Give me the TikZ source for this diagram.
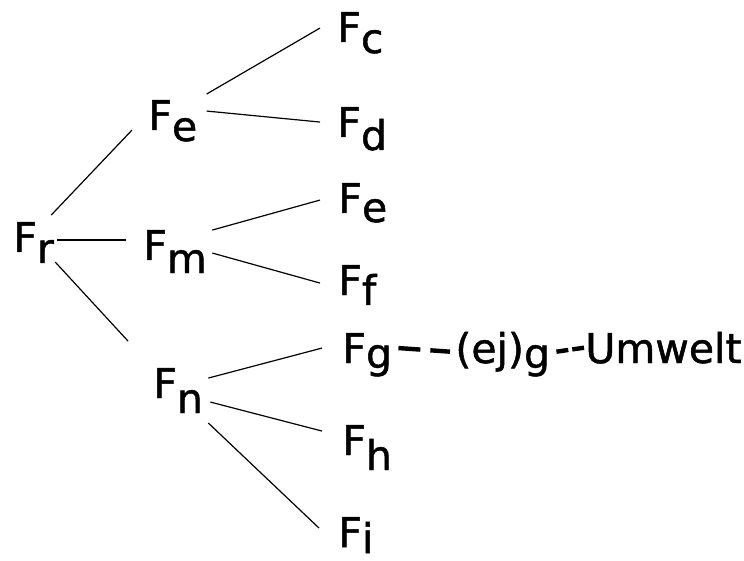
\documentclass[tikz,border=0pt]{standalone}
\usepackage{fontspec}
\setmainfont{DejaVu Sans}
\newfontfamily\schablone{DejaVu Sans}[FakeBold=1.2]
\usetikzlibrary{calc}
\newcommand{\idx}[2][5.5pt]{\raisebox{-#1}[0pt][0pt]{#2}}
\tikzset{
  lbl/.style={inner sep=0pt, anchor=base west, font=\schablone\fontsize{20.5}{22}\selectfont},
  ast/.style={line width=0.6pt},
  strich/.style={line width=2.2pt, dash pattern=on 11pt off 5pt},
  strichk/.style={line width=2.2pt, dash pattern=on 6pt off 2pt},
}

\begin{document}
\begin{tikzpicture}[x=0.5pt, y=-0.5pt]
\useasboundingbox (0,0) rectangle (744,561);
\node[lbl] (fr) at (13,252) {F\idx{r}};
\node[lbl] (fe) at (148,130) {F\idx{e}};
\node[lbl] (fm) at (143,260) {F\idx[6.5pt]{m}};
\node[lbl] (fn) at (153,398) {F\idx[7.5pt]{n}};
\node[lbl] (fc) at (337,42) {F\idx{c}};
\node[lbl] (fd) at (337,137) {F\idx[6.5pt]{d}};
\node[lbl] (fee) at (338,213) {F\idx[4.5pt]{e}};
\node[lbl] (ff) at (338,295) {F\idx[5pt]{f}};
\node[lbl] (fg) at (342,363) {F\idx[2.5pt]{g}};
\node[lbl] (fh) at (342,455) {F\idx[7.5pt]{h}};
\node[lbl] (fi) at (338,547) {F\idx[3pt]{i}};
\node[lbl] (ej) at (455,363) {(ej)\idx[2.5pt]{g}};
\node[lbl] (umwelt) at (585,363) {Umwelt};
\draw[ast] ($(fr.east)+(-3,-22)$) -- ($(fe.west)+(-16,15)$);
\draw[ast] ($(fr.east)+(3,3)$) -- ($(fm.west)+(-17,-5)$);
\draw[ast] ($(fr.east)+(1,25)$) -- ($(fn.west)+(-25,-42)$);
\draw[ast] ($(fe.east)+(9,-21)$) -- ($(fc.west)+(-17,1)$);
\draw[ast] ($(fe.east)+(9,-4)$) -- ($(fd.west)+(-17,0)$);
\draw[ast] ($(fm.east)+(5,-15)$) -- ($(fee.west)+(-18,2)$);
\draw[ast] ($(fm.east)+(5,8)$) -- ($(ff.west)+(-18,3)$);
\draw[ast] ($(fn.east)+(5,-5)$) -- ($(fg.west)+(-20,0)$);
\draw[ast] ($(fn.east)+(7,19)$) -- ($(fh.west)+(-20,-9)$);
\draw[ast] ($(fn.east)+(5,40)$) -- ($(fi.west)+(-19,-4)$);
\draw[strich] ($(fg.east)+(6,0)$) -- ($(ej.west)+(-5,0)$);
\draw[strichk] ($(ej.east)+(6,0)$) -- ($(umwelt.west)+(-1,0)$);
\end{tikzpicture}
\end{document}
